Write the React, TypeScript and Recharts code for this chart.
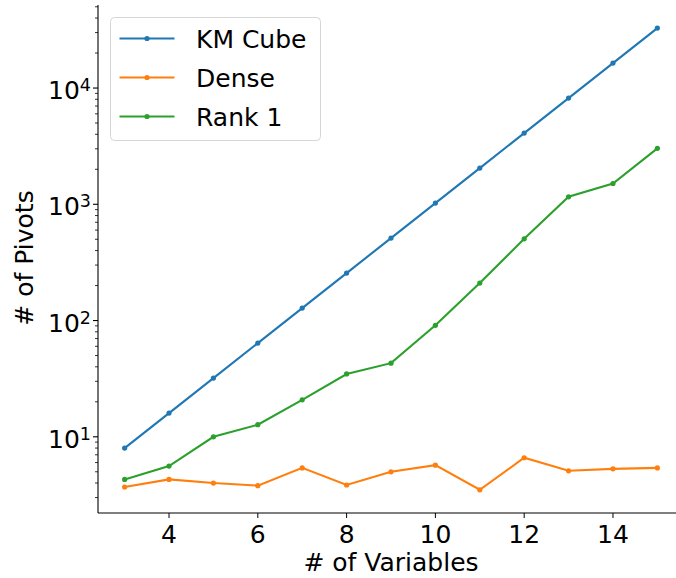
import React from 'react';
import { LineChart, Line, XAxis, YAxis, Legend } from 'recharts';

const variables = [3, 4, 5, 6, 7, 8, 9, 10, 11, 12, 13, 14, 15];
const kmCube = [8, 16, 32, 64, 128, 256, 512, 1024, 2048, 4096, 8192, 16384, 32768];
const dense = [3.7, 4.3, 4.0, 3.8, 5.4, 3.85, 5.0, 5.7, 3.5, 6.6, 5.1, 5.3, 5.4];
const rank1 = [4.3, 5.6, 10, 12.7, 20.8, 34.7, 43, 91, 210, 505, 1160, 1510, 3030];

const seriesNames = ['KM Cube', 'Dense', 'Rank 1'];
const xTicks = [4, 6, 8, 10, 12, 14];
const yMajorTicks = [10, 100, 1000, 10000];
const yMinorTicks = [
  3, 4, 5, 6, 7, 8, 9,
  20, 30, 40, 50, 60, 70, 80, 90,
  200, 300, 400, 500, 600, 700, 800, 900,
  2000, 3000, 4000, 5000, 6000, 7000, 8000, 9000,
  20000, 30000, 40000, 50000,
];
const yAllTicks = [...yMinorTicks, ...yMajorTicks].sort((a, b) => a - b);

const BLUE = '#1f77b4';
const ORANGE = '#ff7f0e';
const GREEN = '#2ca02c';
const FONT = '"DejaVu Sans", sans-serif';

const data = variables.map((v, i) => ({
  n: v,
  km: kmCube[i],
  dense: dense[i],
  rank1: rank1[i],
}));

// draws its own tick mark so major and minor ticks can differ in length
function LogTick(props: any) {
  const { x, y, payload } = props;
  const edge = x + 7;
  const isMajor = yMajorTicks.includes(payload.value);
  if (!isMajor) {
    return <line x1={edge - 3} x2={edge} y1={y} y2={y} stroke="#000" strokeWidth={0.8} />;
  }
  const exp = Math.round(Math.log10(payload.value));
  return (
    <g>
      <line x1={edge - 5} x2={edge} y1={y} y2={y} stroke="#000" strokeWidth={1.1} />
      <text x={x} y={y + 11} textAnchor="end" fontFamily={FONT} fontSize={25} fill="#000">
        <tspan>10</tspan>
        <tspan fontSize={17.5} dy={-8}>{exp}</tspan>
      </text>
    </g>
  );
}

function LegendBox(props: any) {
  const items = [...(props.payload || [])].sort(
    (a: any, b: any) => seriesNames.indexOf(a.value) - seriesNames.indexOf(b.value)
  );
  return (
    <svg width={212} height={125} style={{ display: 'block' }}>
      <rect x={0.5} y={0.5} width={210} height={123} rx={4} fill="#fff" fillOpacity={0.8} stroke="#d6d6d6" />
      {items.map((it: any, i: number) => {
        const cy = 21.5 + i * 39;
        return (
          <g key={it.value}>
            <line x1={9.5} x2={64.5} y1={cy} y2={cy} stroke={it.color} strokeWidth={2.1} />
            <circle cx={37} cy={cy} r={2.6} fill={it.color} />
            <text x={86} y={cy + 9.5} fontFamily={FONT} fontSize={25} fill="#000">
              {it.value}
            </text>
          </g>
        );
      })}
    </svg>
  );
}

export default function App() {
  return (
    <div style={{ position: 'absolute', left: 0, top: 0, width: 676, height: 578, overflow: 'hidden', background: '#fff' }}>
      <LineChart width={700} height={578} data={data} margin={{ top: 5, right: 16, bottom: 0, left: 0 }}>
        <XAxis
          dataKey="n"
          type="number"
          domain={[2.4, 15.6]}
          ticks={xTicks}
          height={65}
          tickSize={5}
          tickMargin={7}
          tick={{ fontSize: 25, fill: '#000', fontFamily: FONT }}
          tickLine={{ stroke: '#000' }}
          axisLine={{ stroke: '#000', strokeWidth: 1.1 }}
          allowDataOverflow
          label={() => (
            <text x={391} y={571} textAnchor="middle" fontFamily={FONT} fontSize={25} fill="#000">
              # of Variables
            </text>
          )}
        />
        <XAxis
          xAxisId="top"
          orientation="top"
          type="number"
          domain={[2.4, 15.6]}
          height={0}
          tick={false}
          tickLine={false}
          axisLine={{ stroke: '#000', strokeWidth: 1.1 }}
        />
        <YAxis
          scale="log"
          type="number"
          domain={[2.21, 51800]}
          allowDataOverflow
          ticks={yAllTicks}
          interval={0}
          width={98}
          tickSize={5}
          tickMargin={2}
          tick={<LogTick />}
          tickLine={false}
          axisLine={{ stroke: '#000', strokeWidth: 1.1 }}
          label={() => (
            <text x={33} y={258} transform="rotate(-90 33 258)" textAnchor="middle" fontFamily={FONT} fontSize={25} fill="#000">
              # of Pivots
            </text>
          )}
        />
        <Legend
          layout="horizontal"
          verticalAlign="middle"
          align="center"
          content={<LegendBox />}
          wrapperStyle={{ left: 110, top: 17, width: 212, height: 125 }}
        />
        <Line name="KM Cube" dataKey="km" stroke={BLUE} strokeWidth={2.1} dot={{ r: 2.6, fill: BLUE, stroke: BLUE, strokeWidth: 0 }} activeDot={false} isAnimationActive={false} />
        <Line name="Dense" dataKey="dense" stroke={ORANGE} strokeWidth={2.1} dot={{ r: 2.6, fill: ORANGE, stroke: ORANGE, strokeWidth: 0 }} activeDot={false} isAnimationActive={false} />
        <Line name="Rank 1" dataKey="rank1" stroke={GREEN} strokeWidth={2.1} dot={{ r: 2.6, fill: GREEN, stroke: GREEN, strokeWidth: 0 }} activeDot={false} isAnimationActive={false} />
      </LineChart>
    </div>
  );
}
